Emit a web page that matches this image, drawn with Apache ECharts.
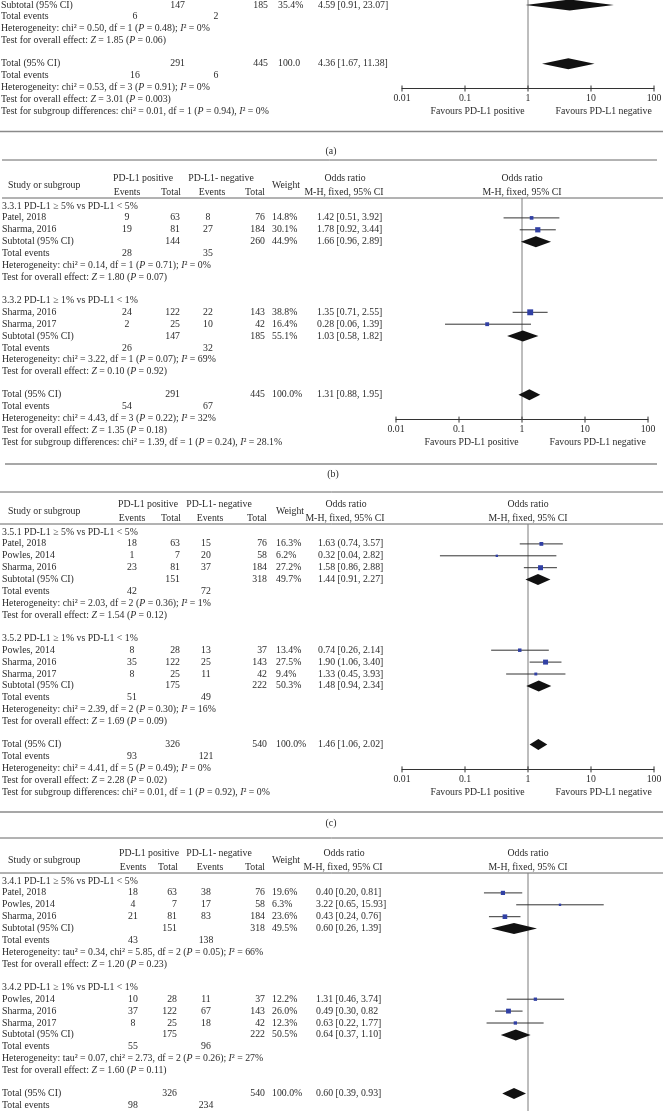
<!DOCTYPE html>
<html><head><meta charset="utf-8">
<script src="https://cdn.jsdelivr.net/npm/echarts@6/dist/echarts.min.js"></script>
<style>html,body{margin:0;padding:0;background:#fff}#c{width:663px;height:1111px}</style>
</head><body><div id="c"></div>
<script>
// ================= DATA =================
const tickValues = [0.01, 0.1, 1, 10, 100];
const tickLabels = ['0.01', '0.1', '1', '10', '100'];
const favoursLabels = ['Favours PD-L1 positive', 'Favours PD-L1 negative'];
const groupHeads = ['PD-L1 positive', 'PD-L1- negative'];
const colHeads = ['Study or subgroup', 'Events', 'Total', 'Events', 'Total', 'Weight'];
const orHeads = ['Odds ratio', 'M-H, fixed, 95% CI'];
const captions = ['(a)', '(b)', '(c)'];
const rowNames = ['Subtotal (95% CI)', 'Total events', 'Total (95% CI)'];

// ---- panel (a): only its lower part is visible ----
const aGroups = [null];
const aStudies = [[]];
const aPosEv = [[]], aPosTot = [[]], aNegEv = [[]], aNegTot = [[]], aWeight = [[]];
const aOR = [[]], aLow = [[]], aHigh = [[]], aCIText = [[]];
const aSubCounts = [[147, 185]];
const aSubEvents = [[6, 2]];
const aSubWeight = ['35.4%'];
const aSubOR = [[4.59, 0.91, 23.07]];
const aSubText = ['4.59 [0.91, 23.07]'];
const aSubNotes = [['Heterogeneity: chi² = 0.50, df = 1 (P = 0.48); I² = 0%', 'Test for overall effect: Z = 1.85 (P = 0.06)']];
const aTotCounts = [291, 445];
const aTotEvents = [16, 6];
const aTotWeight = '100.0';
const aTotOR = [4.36, 1.67, 11.38];
const aTotText = '4.36 [1.67, 11.38]';
const aTotNotes = ['Heterogeneity: chi² = 0.53, df = 3 (P = 0.91); I² = 0%', 'Test for overall effect: Z = 3.01 (P = 0.003)', 'Test for subgroup differences: chi² = 0.01, df = 1 (P = 0.94), I² = 0%'];

// ---- panel (b) ----
const bGroups = ['3.3.1 PD-L1 ≥ 5% vs PD-L1 < 5%', '3.3.2 PD-L1 ≥ 1% vs PD-L1 < 1%'];
const bStudies = [['Patel, 2018', 'Sharma, 2016'], ['Sharma, 2016', 'Sharma, 2017']];
const bPosEv = [[9, 19], [24, 2]];
const bPosTot = [[63, 81], [122, 25]];
const bNegEv = [[8, 27], [22, 10]];
const bNegTot = [[76, 184], [143, 42]];
const bWeight = [[14.8, 30.1], [38.8, 16.4]];
const bOR = [[1.42, 1.78], [1.35, 0.28]];
const bLow = [[0.51, 0.92], [0.71, 0.06]];
const bHigh = [[3.92, 3.44], [2.55, 1.39]];
const bCIText = [['1.42 [0.51, 3.92]', '1.78 [0.92, 3.44]'], ['1.35 [0.71, 2.55]', '0.28 [0.06, 1.39]']];
const bSubCounts = [[144, 260], [147, 185]];
const bSubEvents = [[28, 35], [26, 32]];
const bSubWeight = ['44.9%', '55.1%'];
const bSubOR = [[1.66, 0.96, 2.89], [1.03, 0.58, 1.82]];
const bSubText = ['1.66 [0.96, 2.89]', '1.03 [0.58, 1.82]'];
const bSubNotes = [['Heterogeneity: chi² = 0.14, df = 1 (P = 0.71); I² = 0%', 'Test for overall effect: Z = 1.80 (P = 0.07)'],
                   ['Heterogeneity: chi² = 3.22, df = 1 (P = 0.07); I² = 69%', 'Test for overall effect: Z = 0.10 (P = 0.92)']];
const bTotCounts = [291, 445];
const bTotEvents = [54, 67];
const bTotWeight = '100.0%';
const bTotOR = [1.31, 0.88, 1.95];
const bTotText = '1.31 [0.88, 1.95]';
const bTotNotes = ['Heterogeneity: chi² = 4.43, df = 3 (P = 0.22); I² = 32%', 'Test for overall effect: Z = 1.35 (P = 0.18)', 'Test for subgroup differences: chi² = 1.39, df = 1 (P = 0.24), I² = 28.1%'];

// ---- panel (c) ----
const cGroups = ['3.5.1 PD-L1 ≥ 5% vs PD-L1 < 5%', '3.5.2 PD-L1 ≥ 1% vs PD-L1 < 1%'];
const cStudies = [['Patel, 2018', 'Powles, 2014', 'Sharma, 2016'], ['Powles, 2014', 'Sharma, 2016', 'Sharma, 2017']];
const cPosEv = [[18, 1, 23], [8, 35, 8]];
const cPosTot = [[63, 7, 81], [28, 122, 25]];
const cNegEv = [[15, 20, 37], [13, 25, 11]];
const cNegTot = [[76, 58, 184], [37, 143, 42]];
const cWeight = [[16.3, 6.2, 27.2], [13.4, 27.5, 9.4]];
const cOR = [[1.63, 0.32, 1.58], [0.74, 1.90, 1.33]];
const cLow = [[0.74, 0.04, 0.86], [0.26, 1.06, 0.45]];
const cHigh = [[3.57, 2.82, 2.88], [2.14, 3.40, 3.93]];
const cCIText = [['1.63 (0.74, 3.57]', '0.32 [0.04, 2.82]', '1.58 [0.86, 2.88]'], ['0.74 [0.26, 2.14]', '1.90 (1.06, 3.40]', '1.33 (0.45, 3.93]']];
const cSubCounts = [[151, 318], [175, 222]];
const cSubEvents = [[42, 72], [51, 49]];
const cSubWeight = ['49.7%', '50.3%'];
const cSubOR = [[1.44, 0.91, 2.27], [1.48, 0.94, 2.34]];
const cSubText = ['1.44 [0.91, 2.27]', '1.48 [0.94, 2.34]'];
const cSubNotes = [['Heterogeneity: chi² = 2.03, df = 2 (P = 0.36); I² = 1%', 'Test for overall effect: Z = 1.54 (P = 0.12)'],
                   ['Heterogeneity: chi² = 2.39, df = 2 (P = 0.30); I² = 16%', 'Test for overall effect: Z = 1.69 (P = 0.09)']];
const cTotCounts = [326, 540];
const cTotEvents = [93, 121];
const cTotWeight = '100.0%';
const cTotOR = [1.46, 1.06, 2.02];
const cTotText = '1.46 [1.06, 2.02]';
const cTotNotes = ['Heterogeneity: chi² = 4.41, df = 5 (P = 0.49); I² = 0%', 'Test for overall effect: Z = 2.28 (P = 0.02)', 'Test for subgroup differences: chi² = 0.01, df = 1 (P = 0.92), I² = 0%'];

// ---- panel (d): upper part only ----
const dGroups = ['3.4.1 PD-L1 ≥ 5% vs PD-L1 < 5%', '3.4.2 PD-L1 ≥ 1% vs PD-L1 < 1%'];
const dStudies = [['Patel, 2018', 'Powles, 2014', 'Sharma, 2016'], ['Powles, 2014', 'Sharma, 2016', 'Sharma, 2017']];
const dPosEv = [[18, 4, 21], [10, 37, 8]];
const dPosTot = [[63, 7, 81], [28, 122, 25]];
const dNegEv = [[38, 17, 83], [11, 67, 18]];
const dNegTot = [[76, 58, 184], [37, 143, 42]];
const dWeight = [[19.6, 6.3, 23.6], [12.2, 26.0, 12.3]];
const dOR = [[0.40, 3.22, 0.43], [1.31, 0.49, 0.63]];
const dLow = [[0.20, 0.65, 0.24], [0.46, 0.30, 0.22]];
const dHigh = [[0.81, 15.93, 0.76], [3.74, 0.82, 1.77]];
const dCIText = [['0.40 [0.20, 0.81]', '3.22 [0.65, 15.93]', '0.43 [0.24, 0.76]'], ['1.31 [0.46, 3.74]', '0.49 [0.30, 0.82', '0.63 [0.22, 1.77]']];
const dSubCounts = [[151, 318], [175, 222]];
const dSubEvents = [[43, 138], [55, 96]];
const dSubWeight = ['49.5%', '50.5%'];
const dSubOR = [[0.60, 0.26, 1.39], [0.64, 0.37, 1.10]];
const dSubText = ['0.60 [0.26, 1.39]', '0.64 [0.37, 1.10]'];
const dSubNotes = [['Heterogeneity: tau² = 0.34, chi² = 5.85, df = 2 (P = 0.05); I² = 66%', 'Test for overall effect: Z = 1.20 (P = 0.23)'],
                   ['Heterogeneity: tau² = 0.07, chi² = 2.73, df = 2 (P = 0.26); I² = 27%', 'Test for overall effect: Z = 1.60 (P = 0.11)']];
const dTotCounts = [326, 540];
const dTotEvents = [98, 234];
const dTotWeight = '100.0%';
const dTotOR = [0.60, 0.39, 0.93];
const dTotText = '0.60 [0.39, 0.93]';
const dTotNotes = [];

// ================= STYLE / LAYOUT =================
const FONT = 'Liberation Serif';
const FS = 9.8;
const TXT = '#2b2b2b';
const ROW = 11.9, GAP = 23;
const SQUARE = '#3140a4';

function pack(g, st, pe, pt, ne, nt, w, or, lo, hi, ci, sc, se, sw, so, stx, sn, tc, te, tw, to, ttx, tn) {
  return {groups: g, studies: st, posEv: pe, posTot: pt, negEv: ne, negTot: nt, weight: w, or, lo, hi, ci,
          subCounts: sc, subEvents: se, subWeight: sw, subOR: so, subText: stx, subNotes: sn,
          totCounts: tc, totEvents: te, totWeight: tw, totOR: to, totText: ttx, totNotes: tn};
}
const panels = [
  {d: pack(aGroups, aStudies, aPosEv, aPosTot, aNegEv, aNegTot, aWeight, aOR, aLow, aHigh, aCIText, aSubCounts, aSubEvents, aSubWeight, aSubOR, aSubText, aSubNotes, aTotCounts, aTotEvents, aTotWeight, aTotOR, aTotText, aTotNotes),
   L: {gridTop: 0, y0: 5, axL: 402, axR: 654, header: false, showAxis: true,
       cols: {label: 1, posEv: 135, posTot: 185, negEv: 216, negTot: 268, weight: 278, ci: 318}}},
  {d: pack(bGroups, bStudies, bPosEv, bPosTot, bNegEv, bNegTot, bWeight, bOR, bLow, bHigh, bCIText, bSubCounts, bSubEvents, bSubWeight, bSubOR, bSubText, bSubNotes, bTotCounts, bTotEvents, bTotWeight, bTotOR, bTotText, bTotNotes),
   L: {gridTop: 198, y0: 206, axL: 396, axR: 648, header: true, showAxis: true,
       cols: {label: 2, posEv: 127, posTot: 180, negEv: 208, negTot: 265, weight: 272, ci: 317}}},
  {d: pack(cGroups, cStudies, cPosEv, cPosTot, cNegEv, cNegTot, cWeight, cOR, cLow, cHigh, cCIText, cSubCounts, cSubEvents, cSubWeight, cSubOR, cSubText, cSubNotes, cTotCounts, cTotEvents, cTotWeight, cTotOR, cTotText, cTotNotes),
   L: {gridTop: 524, y0: 532, axL: 402, axR: 654, header: true, showAxis: true,
       cols: {label: 2, posEv: 132, posTot: 180, negEv: 206, negTot: 267, weight: 276, ci: 318}}},
  {d: pack(dGroups, dStudies, dPosEv, dPosTot, dNegEv, dNegTot, dWeight, dOR, dLow, dHigh, dCIText, dSubCounts, dSubEvents, dSubWeight, dSubOR, dSubText, dSubNotes, dTotCounts, dTotEvents, dTotWeight, dTotOR, dTotText, dTotNotes),
   L: {gridTop: 873, y0: 881, axL: 402, axR: 654, header: true, showAxis: false,
       cols: {label: 2, posEv: 133, posTot: 177, negEv: 206, negTot: 265, weight: 272, ci: 316}}}
];
const rules = [
  {y: 131.5, x1: 0, x2: 663, w: 1.5, c: '#8a8a8a'},
  {y: 160, x1: 2, x2: 657, w: 1, c: '#666'},
  {y: 198, x1: 2, x2: 663, w: 1, c: '#666'},
  {y: 464, x1: 5, x2: 657, w: 1.5, c: '#8a8a8a'},
  {y: 492, x1: 0, x2: 663, w: 1, c: '#666'},
  {y: 524, x1: 0, x2: 663, w: 1, c: '#666'},
  {y: 812, x1: 0, x2: 663, w: 1.5, c: '#8a8a8a'},
  {y: 838, x1: 0, x2: 663, w: 1, c: '#666'},
  {y: 873, x1: 0, x2: 663, w: 1, c: '#666'}
];
const captionPos = [[331, 151], [333, 474], [331, 823]];

// ================= BUILD =================
const RICH = {i: {fontStyle: 'italic', fontFamily: FONT, fontSize: FS, fill: TXT}};
function richify(s) { return s.replace(/\(P =/g, '({i|P} =').replace(/ Z =/g, ' {i|Z} =').replace(/I²/g, '{i|I}²'); }
function T(x, y, s, align) {
  s = String(s);
  const style = {text: s, fill: TXT, fontFamily: FONT, fontSize: FS, align: align || 'left', verticalAlign: 'middle'};
  if (s.indexOf('{i|') >= 0) style.rich = RICH;
  return {type: 'text', x: x, y: y, silent: true, style: style};
}
function HL(r) { return {type: 'line', silent: true, shape: {x1: r.x1, y1: r.y, x2: r.x2, y2: r.y}, style: {stroke: r.c, lineWidth: r.w}}; }

const grids = [], xAxes = [], yAxes = [], series = [];
const texts = [];
const favInfo = [];

panels.forEach((P, i) => {
  const d = P.d, L = P.L, C = L.cols;
  const slot = y => (y - L.y0) / ROW;
  let y = L.y0;
  const studyData = [], diamondData = [];
  const next = () => { const cur = y; y += ROW; return cur; };
  d.groups.forEach((g, gi) => {
    if (g) texts.push(T(C.label, next(), g));
    d.studies[gi].forEach((s, si) => {
      const yy = next();
      texts.push(T(C.label, yy, s), T(C.posEv, yy, d.posEv[gi][si], 'center'), T(C.posTot, yy, d.posTot[gi][si], 'right'),
                 T(C.negEv, yy, d.negEv[gi][si], 'center'), T(C.negTot, yy, d.negTot[gi][si], 'right'),
                 T(C.weight, yy, d.weight[gi][si].toFixed(1) + '%'), T(C.ci, yy, d.ci[gi][si]));
      studyData.push([d.or[gi][si], slot(yy), d.lo[gi][si], d.hi[gi][si], d.weight[gi][si]]);
    });
    let yy = next();
    texts.push(T(C.label, yy, rowNames[0]), T(C.posTot, yy, d.subCounts[gi][0], 'right'), T(C.negTot, yy, d.subCounts[gi][1], 'right'),
               T(C.weight, yy, d.subWeight[gi]), T(C.ci, yy, d.subText[gi]));
    diamondData.push([d.subOR[gi][0], slot(yy), d.subOR[gi][1], d.subOR[gi][2]]);
    yy = next();
    texts.push(T(C.label, yy, rowNames[1]), T(C.posEv, yy, d.subEvents[gi][0], 'center'), T(C.negEv, yy, d.subEvents[gi][1], 'center'));
    d.subNotes[gi].forEach(n => texts.push(T(C.label, next(), richify(n))));
    y += GAP - ROW;
  });
  let yy = next();
  texts.push(T(C.label, yy, rowNames[2]), T(C.posTot, yy, d.totCounts[0], 'right'), T(C.negTot, yy, d.totCounts[1], 'right'),
             T(C.weight, yy, d.totWeight), T(C.ci, yy, d.totText));
  diamondData.push([d.totOR[0], slot(yy), d.totOR[1], d.totOR[2]]);
  yy = next();
  texts.push(T(C.label, yy, rowNames[1]), T(C.posEv, yy, d.totEvents[0], 'center'), T(C.negEv, yy, d.totEvents[1], 'center'));
  const hetY = y;
  d.totNotes.forEach(n => texts.push(T(C.label, next(), richify(n))));
  const axisY = hetY + 1;
  favInfo.push({i: i, y: hetY + 2 * ROW, show: L.showAxis});

  if (L.header) {
    const H = L.gridTop;
    texts.push(T(8, H - 13, colHeads[0]),
      T(C.posEv + 16, H - 20, groupHeads[0], 'center'), T(C.negEv + 13, H - 20, groupHeads[1], 'center'),
      T(C.posEv, H - 6, colHeads[1], 'center'), T(C.posTot + 1, H - 6, colHeads[2], 'right'),
      T(C.negEv + 4, H - 6, colHeads[3], 'center'), T(C.negTot, H - 6, colHeads[4], 'right'),
      T(C.weight + 14, H - 13, colHeads[5], 'center'),
      T(C.ci + 28, H - 20, orHeads[0], 'center'), T(C.ci + 27, H - 6, orHeads[1], 'center'));
    favInfo[i].headerY = H;
  }

  const yMin = slot(L.gridTop), yMax = slot(axisY);
  grids.push({left: L.axL, width: L.axR - L.axL, top: L.gridTop, height: axisY - L.gridTop, containLabel: false, outerBoundsMode: 'none'});
  xAxes.push({gridIndex: i, type: 'log', logBase: 10, min: 0.01, max: 100, splitNumber: 4, position: 'bottom',
    axisLine: {show: L.showAxis, onZero: false, lineStyle: {color: '#333', width: 1}},
    axisTick: {show: false}, splitLine: {show: false}, minorTick: {show: false},
    axisLabel: {show: L.showAxis, margin: 5, color: TXT, fontFamily: FONT, fontSize: FS,
      formatter: v => { const k = tickValues.findIndex(t => Math.abs(Math.log10(t) - Math.log10(v)) < 1e-6); return k >= 0 ? tickLabels[k] : ''; }}});
  yAxes.push({gridIndex: i, type: 'value', inverse: true, min: yMin, max: yMax, show: false});

  series.push({type: 'line', xAxisIndex: i, yAxisIndex: i, data: [[1, yMin], [1, yMax]], symbol: 'none', silent: true,
               lineStyle: {color: '#7d7d7d', width: 1}, z: 1, animation: false});
  series.push({type: 'custom', xAxisIndex: i, yAxisIndex: i, data: studyData, silent: true, z: 3, clip: false,
    encode: {x: 0, y: 1},
    renderItem: (params, api) => {
      const sy = api.value(1);
      const pL = api.coord([api.value(2), sy]), pH = api.coord([api.value(3), sy]), pC = api.coord([api.value(0), sy]);
      const s = Math.max(2.2, Math.sqrt(api.value(4)) * 0.95);
      return {type: 'group', children: [
        {type: 'line', shape: {x1: pL[0], y1: pL[1], x2: pH[0], y2: pH[1]}, style: {stroke: '#333', lineWidth: 1}},
        {type: 'rect', shape: {x: pC[0] - s / 2, y: pC[1] - s / 2, width: s, height: s}, style: {fill: SQUARE}}
      ]};
    }});
  series.push({type: 'custom', xAxisIndex: i, yAxisIndex: i, data: diamondData, silent: true, z: 3, clip: false,
    encode: {x: 0, y: 1},
    renderItem: (params, api) => {
      const sy = api.value(1);
      const pL = api.coord([api.value(2), sy]), pH = api.coord([api.value(3), sy]), pC = api.coord([api.value(0), sy]);
      const h = 5.5;
      return {type: 'polygon', shape: {points: [[pL[0], pL[1]], [pC[0], pC[1] - h], [pH[0], pH[1]], [pC[0], pC[1] + h]]},
              style: {fill: '#111'}};
    }});
  if (L.showAxis) {
    series.push({type: 'custom', xAxisIndex: i, yAxisIndex: i, data: tickValues.map(v => [v, yMax]), silent: true, z: 4, clip: false,
      encode: {x: 0, y: 1},
      renderItem: (params, api) => {
        const p = api.coord([api.value(0), api.value(1)]);
        return {type: 'line', shape: {x1: p[0], y1: p[1] - 3, x2: p[0], y2: p[1] + 3}, style: {stroke: '#333', lineWidth: 1}};
      }});
  }
});

const chart = echarts.init(document.getElementById('c'), null, {renderer: 'canvas', width: 663, height: 1111});
chart.setOption({animation: false, backgroundColor: '#fff', grid: grids, xAxis: xAxes, yAxis: yAxes, series: series});

// texts positioned through each panel's own log axis
favInfo.forEach(f => {
  const px = v => chart.convertToPixel({xAxisIndex: f.i}, v);
  if (f.show) {
    texts.push(T(px(Math.pow(10, -0.8)), f.y, favoursLabels[0], 'center'));
    texts.push(T(px(Math.pow(10, 1.2)), f.y, favoursLabels[1], 'center'));
  }
  if (f.headerY !== undefined) {
    texts.push(T(px(1), f.headerY - 20, orHeads[0], 'center'));
    texts.push(T(px(1), f.headerY - 6, orHeads[1], 'center'));
  }
});
captions.forEach((c, k) => texts.push(T(captionPos[k][0], captionPos[k][1], c, 'center')));
const graphics = rules.map(HL).concat(texts);
chart.setOption({graphic: {elements: graphics}});
</script>
</body></html>
